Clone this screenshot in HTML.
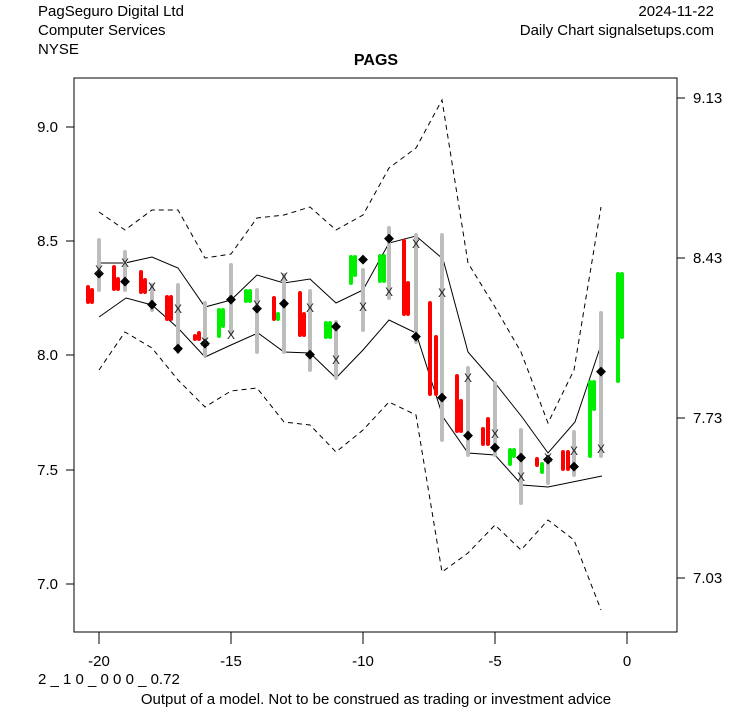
<!DOCTYPE html>
<html><head><style>
body{margin:0;background:#fff}
svg text{font-family:"Liberation Sans",Arial,sans-serif}
</style></head><body>
<svg width="753" height="708" xmlns="http://www.w3.org/2000/svg">
<rect width="753" height="708" fill="#fff"/>
<g font-size="15" fill="#000">
<text x="38" y="16">PagSeguro Digital Ltd</text>
<text x="38" y="35">Computer Services</text>
<text x="38" y="54">NYSE</text>
<text x="714" y="16" text-anchor="end">2024-11-22</text>
<text x="714" y="35" text-anchor="end">Daily Chart signalsetups.com</text>
<text x="376" y="65" text-anchor="middle" font-weight="bold" font-size="16">PAGS</text>
</g>
<rect x="74" y="78" width="603" height="554" fill="none" stroke="#000" stroke-width="1"/>
<g stroke="#000" stroke-width="1">
<line x1="74" y1="127" x2="66" y2="127"/><line x1="74" y1="241" x2="66" y2="241"/><line x1="74" y1="355" x2="66" y2="355"/><line x1="74" y1="470" x2="66" y2="470"/><line x1="74" y1="584" x2="66" y2="584"/>
<line x1="677" y1="98" x2="685" y2="98"/><line x1="677" y1="258" x2="685" y2="258"/><line x1="677" y1="418" x2="685" y2="418"/><line x1="677" y1="578" x2="685" y2="578"/>
<line x1="99" y1="632" x2="99" y2="644"/><line x1="231" y1="632" x2="231" y2="644"/><line x1="363" y1="632" x2="363" y2="644"/><line x1="495" y1="632" x2="495" y2="644"/><line x1="627" y1="632" x2="627" y2="644"/>
</g>
<g font-size="15" fill="#000">
<text x="58" y="132" text-anchor="end">9.0</text><text x="58" y="246" text-anchor="end">8.5</text><text x="58" y="360" text-anchor="end">8.0</text><text x="58" y="475" text-anchor="end">7.5</text><text x="58" y="589" text-anchor="end">7.0</text>
<text x="693" y="103">9.13</text><text x="693" y="263">8.43</text><text x="693" y="423">7.73</text><text x="693" y="583">7.03</text>
<text x="99" y="666" text-anchor="middle">-20</text><text x="231" y="666" text-anchor="middle">-15</text><text x="363" y="666" text-anchor="middle">-10</text><text x="495" y="666" text-anchor="middle">-5</text><text x="627" y="666" text-anchor="middle">0</text>
<text x="38" y="684">2 _ 1 0 _ 0 0 0 _ 0.72</text>
<text x="376" y="704" text-anchor="middle">Output of a model. Not to be construed as trading or investment advice</text>
</g>
<g fill="none" stroke="#000" stroke-width="1">
<polyline points="99,263 125,263 152,257 178,268 205,307 231,300 257,275 284,283 310,279 336,303 363,290 389,243 416,236 443,259 468,352 495,383 522,417 548,453 575,422 602,342"/>
<polyline points="99,317 126,298 152,305 178,328 205,357 231,345 258,333 284,352 310,353 336,378 363,350 389,320 416,333 443,417 468,453 495,455 522,485 548,487 602,476"/>
<g stroke-dasharray="5,4">
<polyline points="99,212 125,230 152,210 178,210 205,258 231,254 257,218 284,215 310,207 336,230 363,215 389,168 416,148 442,100 468,263 495,307 521,352 548,423 574,370 601,207"/>
<polyline points="99,370 125,332 152,348 178,380 205,407 231,391 257,388 284,422 310,425 336,452 363,430 389,402 416,415 442,572 468,553 495,525 521,550 548,520 574,540 601,610"/>
</g>
</g>
<g stroke-width="4" stroke-linecap="round">
<g stroke="#bdbdbd">
<line x1="99" y1="240" x2="99" y2="290"/><line x1="125" y1="252" x2="125" y2="290"/><line x1="152" y1="285" x2="152" y2="310"/><line x1="178" y1="285" x2="178" y2="352"/><line x1="205" y1="303" x2="205" y2="355"/><line x1="231" y1="265" x2="231" y2="333"/><line x1="257" y1="290" x2="257" y2="352"/><line x1="284" y1="275" x2="284" y2="352"/><line x1="310" y1="291" x2="310" y2="370"/><line x1="336" y1="322" x2="336" y2="378"/><line x1="363" y1="270" x2="363" y2="330"/><line x1="389" y1="228" x2="389" y2="298"/><line x1="416" y1="235" x2="416" y2="342"/><line x1="442" y1="235" x2="442" y2="440"/><line x1="468" y1="368" x2="468" y2="455"/><line x1="495" y1="383" x2="495" y2="455"/><line x1="521" y1="430" x2="521" y2="503"/><line x1="548" y1="457" x2="548" y2="483"/><line x1="574" y1="432" x2="574" y2="475"/><line x1="601" y1="313" x2="601" y2="456"/>
</g>
<g stroke="#ff0000">
<line x1="88" y1="287" x2="88" y2="302"/><line x1="92" y1="290" x2="92" y2="302"/>
<line x1="114" y1="267" x2="114" y2="289"/><line x1="118" y1="279" x2="118" y2="289"/>
<line x1="141" y1="272" x2="141" y2="292"/><line x1="145" y1="280" x2="145" y2="292"/>
<line x1="167" y1="297" x2="167" y2="319"/><line x1="171" y1="297" x2="171" y2="319"/>
<line x1="195" y1="336" x2="195" y2="339"/><line x1="199" y1="333" x2="199" y2="339"/>
<line x1="274" y1="298" x2="274" y2="319"/>
<line x1="300" y1="293" x2="300" y2="335"/><line x1="304" y1="314" x2="304" y2="335"/>
<line x1="404" y1="241" x2="404" y2="314"/><line x1="408" y1="283" x2="408" y2="314"/>
<line x1="430" y1="303" x2="430" y2="394"/><line x1="436" y1="337" x2="436" y2="394"/>
<line x1="457" y1="376" x2="457" y2="431"/><line x1="461" y1="401" x2="461" y2="431"/>
<line x1="483" y1="429" x2="483" y2="444"/><line x1="488" y1="419" x2="488" y2="444"/>
<line x1="537" y1="459" x2="537" y2="465"/>
<line x1="563" y1="452" x2="563" y2="469"/><line x1="568" y1="452" x2="568" y2="469"/>
</g>
<g stroke="#00ee00">
<line x1="219" y1="310" x2="219" y2="336"/><line x1="223" y1="310" x2="223" y2="326"/>
<line x1="246" y1="291" x2="246" y2="301"/><line x1="250" y1="291" x2="250" y2="301"/>
<line x1="278" y1="314" x2="278" y2="319"/>
<line x1="326" y1="323" x2="326" y2="337"/><line x1="330" y1="323" x2="330" y2="337"/>
<line x1="351" y1="257" x2="351" y2="283"/><line x1="355" y1="257" x2="355" y2="275"/>
<line x1="380" y1="256" x2="380" y2="281"/><line x1="384" y1="256" x2="384" y2="281"/>
<line x1="510" y1="450" x2="510" y2="464"/><line x1="514" y1="450" x2="514" y2="456"/>
<line x1="542" y1="464" x2="542" y2="472"/>
<line x1="590" y1="382" x2="590" y2="456"/><line x1="594" y1="382" x2="594" y2="409"/>
<line x1="618" y1="274" x2="618" y2="381"/><line x1="622" y1="274" x2="622" y2="337"/>
</g>
</g>
<g fill="#000" font-size="13" text-anchor="middle">
<text x="99" y="277">◆</text><text x="125" y="285">◆</text><text x="152" y="308">◆</text><text x="178" y="352">◆</text><text x="205" y="347">◆</text><text x="231" y="303">◆</text><text x="257" y="312">◆</text><text x="284" y="307">◆</text><text x="310" y="358">◆</text><text x="336" y="330">◆</text><text x="363" y="263">◆</text><text x="389" y="242">◆</text><text x="416" y="340">◆</text><text x="442" y="401">◆</text><text x="468" y="439">◆</text><text x="495" y="451">◆</text><text x="521" y="461">◆</text><text x="548" y="463">◆</text><text x="574" y="470">◆</text><text x="601" y="375">◆</text>
</g>
<g fill="#222" font-size="12" text-anchor="middle">
<text x="99" y="274">X</text><text x="125" y="267">X</text><text x="152" y="291">X</text><text x="178" y="313">X</text><text x="205" y="346">X</text><text x="231" y="339">X</text><text x="257" y="309">X</text><text x="284" y="281">X</text><text x="310" y="312">X</text><text x="336" y="364">X</text><text x="363" y="311">X</text><text x="389" y="296">X</text><text x="416" y="248">X</text><text x="442" y="297">X</text><text x="468" y="382">X</text><text x="495" y="438">X</text><text x="521" y="481">X</text><text x="548" y="462">X</text><text x="574" y="455">X</text><text x="601" y="453">X</text>
</g>
</svg>
</body></html>
